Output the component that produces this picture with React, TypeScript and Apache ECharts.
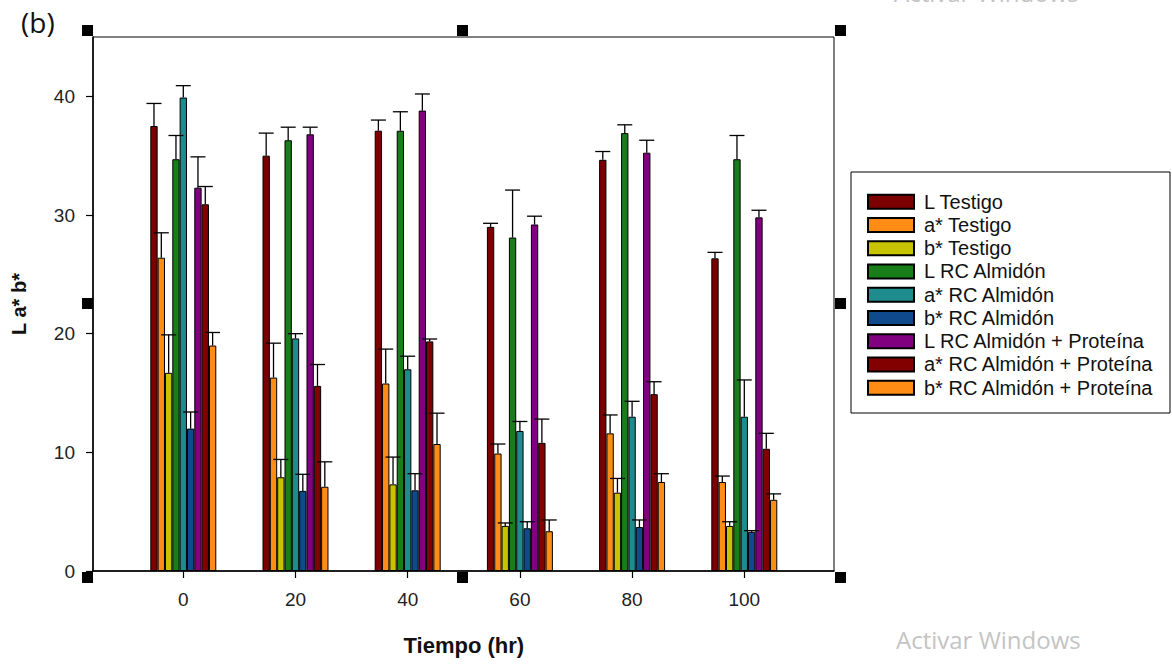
import React, { useEffect, useRef } from "react";
import * as echarts from "echarts";

const categories = ["0", "20", "40", "60", "80", "100"];
const seriesNames = [
  "L Testigo",
  "a* Testigo",
  "b* Testigo",
  "L RC Almidón",
  "a* RC Almidón",
  "b* RC Almidón",
  "L RC Almidón + Proteína",
  "a* RC Almidón + Proteína",
  "b* RC Almidón + Proteína",
];
const seriesColors = [
  "#7b0000",
  "#ff8c14",
  "#c8c300",
  "#197d19",
  "#1e8c8c",
  "#0f4b8c",
  "#800080",
  "#820000",
  "#ff8c14",
];

const lTestigo = [37.5, 35.0, 37.1, 29.0, 34.65, 26.35];
const lTestigoErr = [1.9, 1.9, 0.9, 0.3, 0.7, 0.5];
const aTestigo = [26.4, 16.3, 15.8, 9.9, 11.6, 7.5];
const aTestigoErr = [2.1, 2.9, 2.9, 0.8, 1.55, 0.5];
const bTestigo = [16.7, 7.9, 7.3, 3.8, 6.6, 3.8];
const bTestigoErr = [3.2, 1.5, 2.3, 0.25, 1.2, 0.35];
const lAlmidon = [34.7, 36.3, 37.1, 28.1, 36.9, 34.7];
const lAlmidonErr = [2.0, 1.1, 1.6, 4.0, 0.7, 2.0];
const aAlmidon = [39.9, 19.6, 17.0, 11.8, 13.0, 13.0];
const aAlmidonErr = [1.0, 0.4, 1.1, 0.8, 1.3, 3.1];
const bAlmidon = [12.0, 6.75, 6.8, 3.6, 3.7, 3.3];
const bAlmidonErr = [1.4, 1.4, 1.4, 0.55, 0.6, 0.1];
const lProteina = [32.3, 36.8, 38.8, 29.2, 35.25, 29.8];
const lProteinaErr = [2.6, 0.6, 1.4, 0.7, 1.05, 0.6];
const aProteina = [30.9, 15.6, 19.35, 10.8, 14.9, 10.3];
const aProteinaErr = [1.5, 1.8, 0.2, 2.0, 1.05, 1.3];
const bProteina = [19.0, 7.1, 10.7, 3.35, 7.5, 6.0];
const bProteinaErr = [1.1, 2.1, 2.6, 0.95, 0.7, 0.5];

const yTicks = [0, 10, 20, 30, 40];

const seriesValues = [lTestigo, aTestigo, bTestigo, lAlmidon, aAlmidon, bAlmidon, lProteina, aProteina, bProteina];
const seriesErrors = [
  lTestigoErr,
  aTestigoErr,
  bTestigoErr,
  lAlmidonErr,
  aAlmidonErr,
  bAlmidonErr,
  lProteinaErr,
  aProteinaErr,
  bProteinaErr,
];

const FONT = "'Liberation Sans', Arial, Helvetica, sans-serif";
const FONT2 = "'Open Sans', 'Noto Sans', sans-serif";
const BW = 7.33;

export default function App() {
  const ref = useRef<HTMLDivElement>(null);

  useEffect(() => {
    if (!ref.current) return;
    const chart = echarts.init(ref.current, null, { renderer: "svg" });

    const barSeries = seriesNames.map((name, i) => ({
      name,
      type: "bar",
      xAxisIndex: 1,
      yAxisIndex: 1,
      data: seriesValues[i],
      barWidth: BW,
      barGap: "0%",
      itemStyle: { color: seriesColors[i], borderColor: "#000", borderWidth: 1 },
      z: 2,
    }));

    const errData: number[][] = [];
    seriesValues.forEach((vals, si) => {
      vals.forEach((v, ci) => {
        errData.push([ci, si, v, seriesErrors[si][ci]]);
      });
    });

    const errSeries = {
      name: "errores",
      type: "custom",
      xAxisIndex: 1,
      yAxisIndex: 1,
      z: 5,
      encode: { x: 0, y: 2 },
      data: errData,
      renderItem: (params: any, api: any) => {
        const ci = api.value(0);
        const si = api.value(1);
        const v = api.value(2);
        const e = api.value(3);
        const base = api.coord([ci, v]);
        const top = api.coord([ci, v + e]);
        const x = base[0] + (si - 4) * BW;
        return {
          type: "group",
          children: [
            {
              type: "line",
              shape: { x1: x, y1: base[1], x2: x, y2: top[1] },
              style: { stroke: "#000", lineWidth: 1.3 },
            },
            {
              type: "line",
              shape: { x1: x - 7.5, y1: top[1], x2: x + 7.5, y2: top[1] },
              style: { stroke: "#000", lineWidth: 1.3 },
            },
          ],
        };
      },
    };

    const handles: any[] = [];
    [82, 457, 835].forEach((hx) => {
      [25, 298, 572].forEach((hy) => {
        if (hx === 457 && hy === 298) return;
        handles.push({
          type: "rect",
          shape: { x: hx, y: hy, width: 11, height: 11 },
          style: { fill: "#000" },
          z: 10,
        });
      });
    });

    chart.setOption({
      animation: false,
      backgroundColor: "#fff",
      textStyle: { fontFamily: FONT },
      grid: [
        {
          left: 93,
          top: 37,
          width: 741,
          height: 534,
          show: true,
          borderColor: "#000",
          borderWidth: 1,
          backgroundColor: "transparent",
          containLabel: false,
          outerBoundsMode: "none",
        },
        {
          left: 127.2,
          top: 37,
          width: 673.2,
          height: 534,
          show: false,
          containLabel: false,
          outerBoundsMode: "none",
        },
      ],
      xAxis: [
        {
          type: "value",
          gridIndex: 0,
          min: 0,
          max: 1,
          axisLine: { show: true, lineStyle: { color: "#000", width: 1.5 } },
          axisTick: { show: false },
          axisLabel: { show: false },
          splitLine: { show: false },
        },
        {
          type: "category",
          gridIndex: 1,
          data: categories,
          axisLine: { show: false },
          axisTick: { show: true, alignWithLabel: true, length: 7, lineStyle: { color: "#000", width: 1.2 } },
          axisLabel: { fontSize: 19, color: "#222", margin: 19, fontFamily: FONT },
          name: "Tiempo (hr)",
          nameLocation: "middle",
          nameGap: 63,
          nameTextStyle: { fontSize: 22, fontWeight: "bold", color: "#111", fontFamily: FONT },
        },
      ],
      yAxis: [
        {
          type: "value",
          gridIndex: 0,
          min: 0,
          max: 45,
          interval: 10,
          axisLine: { show: true, lineStyle: { color: "#000", width: 1.5 } },
          axisTick: { show: true, length: 7, customValues: yTicks, lineStyle: { color: "#000", width: 1.2 } },
          axisLabel: { fontSize: 19, color: "#222", margin: 18, customValues: yTicks, fontFamily: FONT },
          splitLine: { show: false },
          name: "L a* b*",
          nameLocation: "middle",
          nameGap: 64,
          nameTextStyle: { fontSize: 20, fontWeight: "bold", color: "#111", fontFamily: FONT },
        },
        { type: "value", gridIndex: 1, min: 0, max: 45, show: false },
      ],
      legend: {
        data: seriesNames,
        orient: "vertical",
        left: 867,
        top: 190,
        padding: 0,
        itemWidth: 46,
        itemHeight: 14,
        itemGap: 0,
        icon: "rect",
        selectedMode: false,
        textStyle: {
          fontSize: 20,
          lineHeight: 23.25,
          color: "#111",
          fontFamily: FONT,
          padding: [0, 0, 0, 5],
        },
      },
      graphic: [
        {
          type: "text",
          left: 21,
          top: 8,
          style: { text: "(b)", fontSize: 28, fill: "#111", fontFamily: FONT2 },
        },
        {
          type: "rect",
          shape: { x: 851, y: 172, width: 319, height: 241 },
          style: { fill: "none", stroke: "#000", lineWidth: 1 },
        },
        {
          type: "text",
          x: 896,
          y: 627,
          style: { text: "Activar Windows", fontSize: 24, fill: "#c4c4c4", fontFamily: FONT2 },
        },
        {
          type: "text",
          x: 894,
          y: -20,
          style: { text: "Activar Windows", fontSize: 24, fill: "#c4c4c4", fontFamily: FONT2 },
        },
        ...handles,
      ],
      series: [...barSeries, errSeries],
    });

    return () => chart.dispose();
  }, []);

  return (
    <div
      ref={ref}
      style={{ position: "fixed", left: 0, top: 0, width: 1172, height: 667, background: "#fff" }}
    />
  );
}
